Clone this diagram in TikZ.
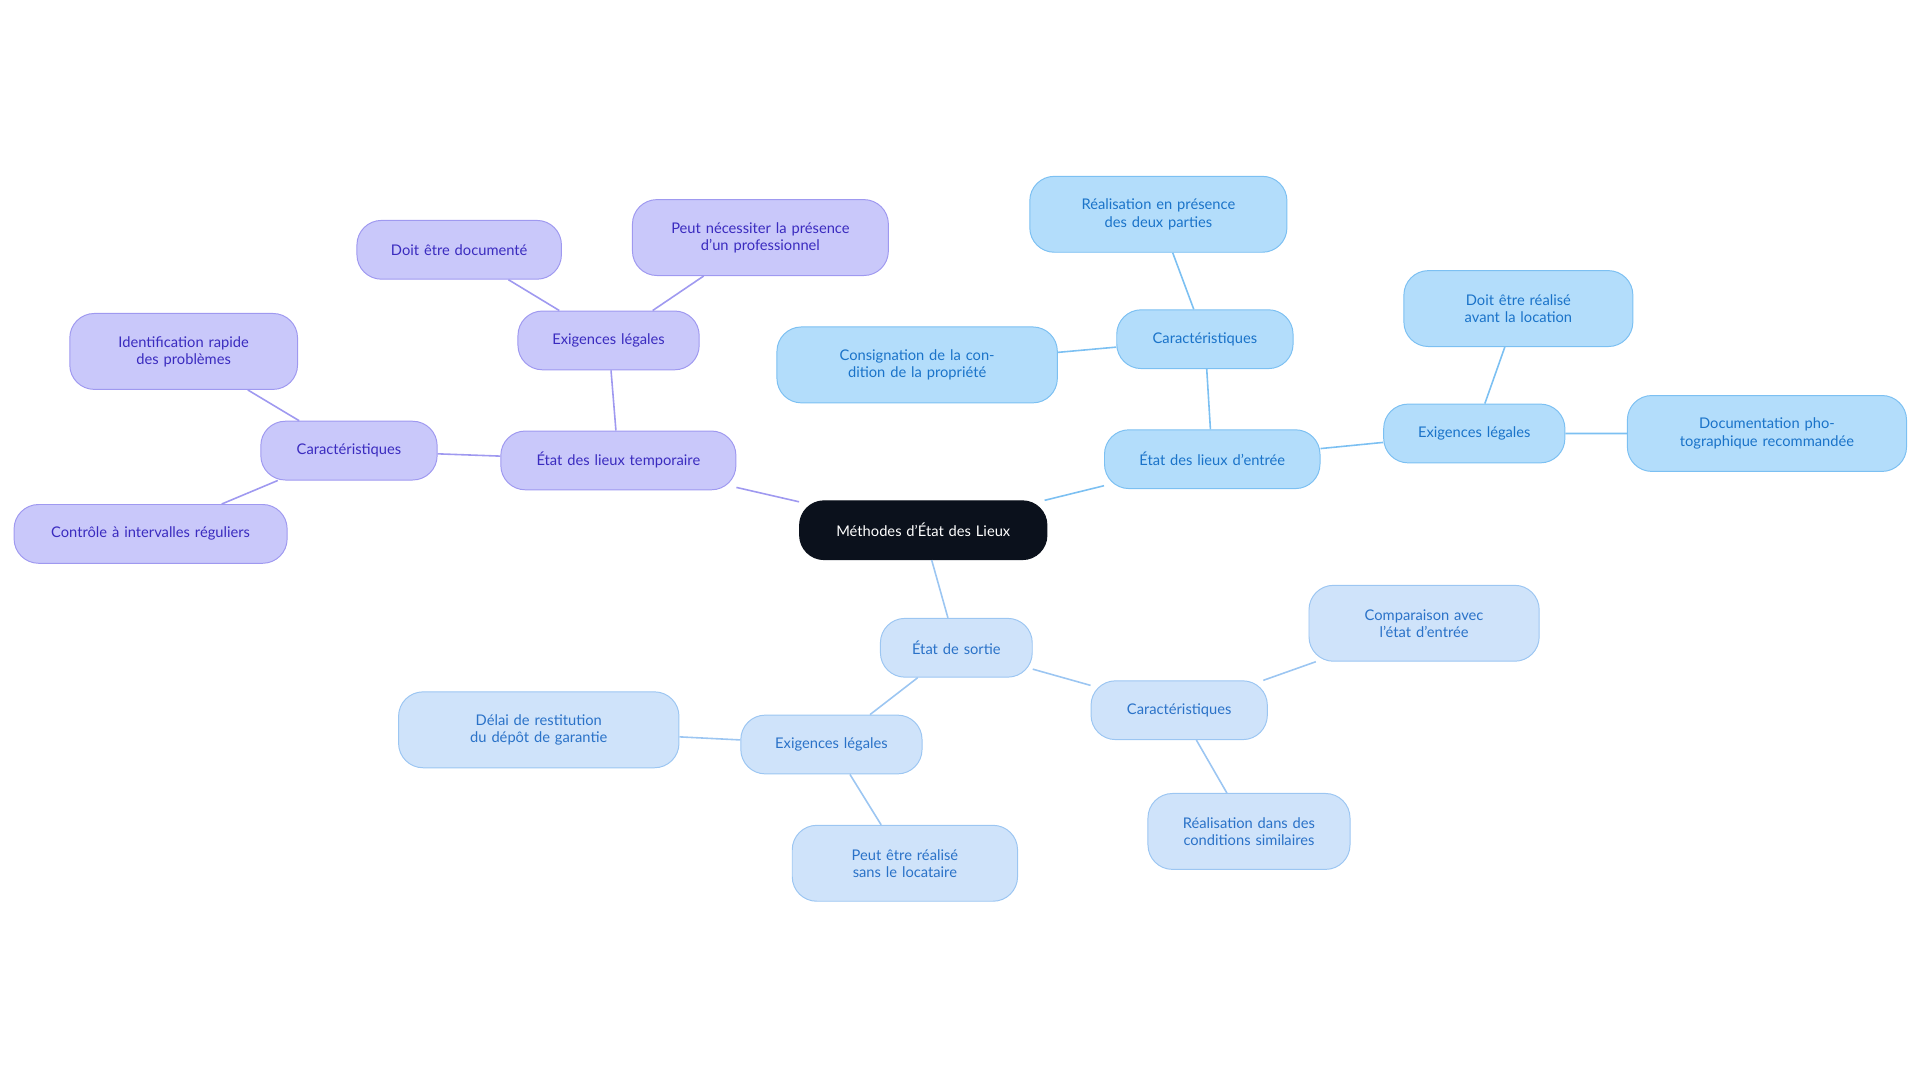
\documentclass[tikz,border=0pt]{standalone}
\usepackage{fontspec}
\setmainfont{Lato}
\definecolor{pf}{HTML}{C9C8FA}\definecolor{pb}{HTML}{9F99F0}\definecolor{pt}{HTML}{3A2BBF}
\definecolor{bf}{HTML}{B3DDFB}\definecolor{bb}{HTML}{7CC0F2}\definecolor{bt}{HTML}{1A73C9}
\definecolor{sf}{HTML}{CFE3FA}\definecolor{sb}{HTML}{9CC6F2}\definecolor{st}{HTML}{2A72C8}
\definecolor{cf}{HTML}{0B111C}
\begin{document}
\begin{tikzpicture}[x=1pt,y=-1pt,
 base/.style={rounded corners=20pt,align=center,font=\fontsize{12}{14}\selectfont,inner sep=2pt,minimum height=48pt,line width=0.8pt},
 pn/.style={base,fill=pf,draw=pb,text=pt},
 bn/.style={base,fill=bf,draw=bb,text=bt},
 sn/.style={base,fill=sf,draw=sb,text=st},
 pe/.style={draw=pb,line width=1.3pt},
 be/.style={draw=bb,line width=1.3pt},
 se/.style={draw=sb,line width=1.3pt}]
\useasboundingbox (0,0) rectangle (1568,884);
\def\nd#1#2#3#4#5#6{\node[#1,minimum width=#4pt,text width=#4pt-24pt,minimum height=#5pt] (#2) at #3 {#6};}
\nd{base,fill=cf,text=white,draw=cf}{c}{(754,433)}{202}{48}{Méthodes d'État des Lieux}
\nd{pn}{t}{(505,376)}{192}{48}{État des lieux temporaire}
\nd{pn}{te}{(497,278)}{148}{48}{Exigences légales}
\nd{pn}{te1}{(375,204)}{167}{48}{Doit être documenté}
\nd{pn}{te2}{(621,194)}{209}{62}{Peut nécessiter la présence d'un professionnel}
\nd{pn}{tc}{(285,368)}{144}{48}{Caractéristiques}
\nd{pn}{tc1}{(150,287)}{186}{62}{Identification rapide des problèmes}
\nd{pn}{tc2}{(123,436)}{223}{48}{Contrôle à intervalles réguliers}
\nd{bn}{e}{(990,375)}{176}{48}{État des lieux d'entrée}
\nd{bn}{ec}{(984,277)}{144}{48}{Caractéristiques}
\nd{bn}{ec1}{(946,175)}{210}{62}{Réalisation en présence des deux parties}
\nd{bn}{ec2}{(749,298)}{229}{62}{Consignation de la condition de la propriété}
\nd{bn}{ee}{(1204,354)}{148}{48}{Exigences légales}
\nd{bn}{ee1}{(1240,252)}{187}{62}{Doit être réalisé avant la location}
\nd{bn}{ee2}{(1443,354)}{228}{62}{Documentation photographique recommandée}
\nd{sn}{s}{(781,529)}{124}{48}{État de sortie}
\nd{sn}{sc}{(963,580)}{144}{48}{Caractéristiques}
\nd{sn}{sc1}{(1163,509)}{188}{62}{Comparaison avec l'état d'entrée}
\nd{sn}{sc2}{(1020,679)}{165}{62}{Réalisation dans des conditions similaires}
\nd{sn}{se}{(679,608)}{148}{48}{Exigences légales}
\nd{sn}{se1}{(440,596)}{229}{62}{Délai de restitution du dépôt de garantie}
\nd{sn}{se2}{(739,705)}{184}{62}{Peut être réalisé sans le locataire}
\path[pe] (c)--(t) (t)--(te) (te)--(te1) (te)--(te2) (t)--(tc) (tc)--(tc1) (tc)--(tc2);
\path[be] (c)--(e) (e)--(ec) (ec)--(ec1) (ec)--(ec2) (e)--(ee) (ee)--(ee1) (ee)--(ee2);
\path[se] (c)--(s) (s)--(sc) (sc)--(sc1) (sc)--(sc2) (s)--(se) (se)--(se1) (se)--(se2);
\end{tikzpicture}
\end{document}
